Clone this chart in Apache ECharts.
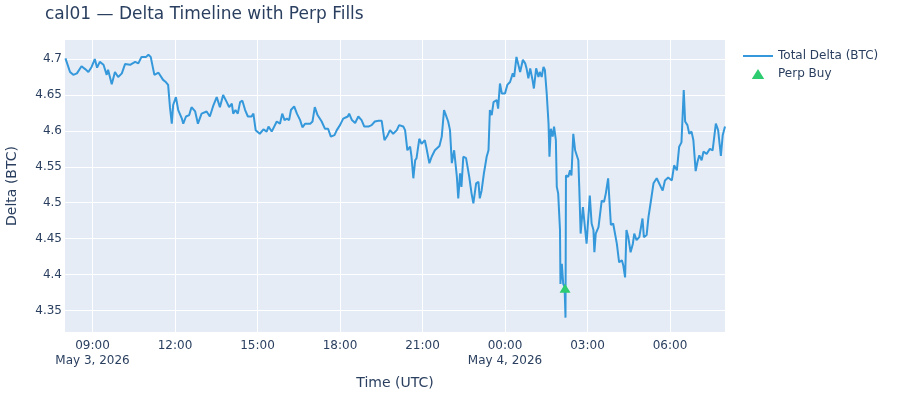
<!DOCTYPE html>
<html>
  <head>
    <meta charset="utf-8" />
  </head>
  <body style="margin: 0; background: #fff">
    <div id="container" style="width: 900px; height: 400px"></div>
    <script src="https://cdn.jsdelivr.net/npm/echarts@6/dist/echarts.min.js"></script>
    <script type="text/javascript">
      // delta samples (UTC)
      const times = [
        '2026-05-03 08:01', '2026-05-03 08:11', '2026-05-03 08:15', '2026-05-03 08:18', '2026-05-03 08:26',
        '2026-05-03 08:36', '2026-05-03 08:44', '2026-05-03 08:51', '2026-05-03 08:58', '2026-05-03 09:05',
        '2026-05-03 09:10', '2026-05-03 09:16', '2026-05-03 09:24', '2026-05-03 09:31', '2026-05-03 09:34',
        '2026-05-03 09:42', '2026-05-03 09:49', '2026-05-03 09:56', '2026-05-03 10:04', '2026-05-03 10:11',
        '2026-05-03 10:22', '2026-05-03 10:33', '2026-05-03 10:40', '2026-05-03 10:47', '2026-05-03 10:57',
        '2026-05-03 11:02', '2026-05-03 11:07', '2026-05-03 11:11', '2026-05-03 11:15', '2026-05-03 11:24',
        '2026-05-03 11:27', '2026-05-03 11:34', '2026-05-03 11:40', '2026-05-03 11:45', '2026-05-03 11:49',
        '2026-05-03 11:53', '2026-05-03 11:56', '2026-05-03 12:02', '2026-05-03 12:07', '2026-05-03 12:15',
        '2026-05-03 12:18', '2026-05-03 12:24', '2026-05-03 12:31', '2026-05-03 12:36', '2026-05-03 12:44',
        '2026-05-03 12:50', '2026-05-03 12:58', '2026-05-03 13:09', '2026-05-03 13:16', '2026-05-03 13:24',
        '2026-05-03 13:31', '2026-05-03 13:38', '2026-05-03 13:45', '2026-05-03 13:53', '2026-05-03 13:58',
        '2026-05-03 14:04', '2026-05-03 14:07', '2026-05-03 14:12', '2026-05-03 14:17', '2026-05-03 14:22',
        '2026-05-03 14:27', '2026-05-03 14:33', '2026-05-03 14:39', '2026-05-03 14:47', '2026-05-03 14:51',
        '2026-05-03 14:56', '2026-05-03 15:05', '2026-05-03 15:13', '2026-05-03 15:20', '2026-05-03 15:24',
        '2026-05-03 15:31', '2026-05-03 15:42', '2026-05-03 15:49', '2026-05-03 15:54', '2026-05-03 15:59',
        '2026-05-03 16:04', '2026-05-03 16:09', '2026-05-03 16:13', '2026-05-03 16:20', '2026-05-03 16:26',
        '2026-05-03 16:33', '2026-05-03 16:38', '2026-05-03 16:44', '2026-05-03 16:55', '2026-05-03 17:00',
        '2026-05-03 17:05', '2026-05-03 17:11', '2026-05-03 17:20', '2026-05-03 17:27', '2026-05-03 17:34',
        '2026-05-03 17:40', '2026-05-03 17:48', '2026-05-03 17:53', '2026-05-03 18:00', '2026-05-03 18:07',
        '2026-05-03 18:17', '2026-05-03 18:20', '2026-05-03 18:26', '2026-05-03 18:33', '2026-05-03 18:40',
        '2026-05-03 18:47', '2026-05-03 18:53', '2026-05-03 19:02', '2026-05-03 19:09', '2026-05-03 19:16',
        '2026-05-03 19:24', '2026-05-03 19:31', '2026-05-03 19:37', '2026-05-03 19:44', '2026-05-03 19:49',
        '2026-05-03 19:56', '2026-05-03 20:04', '2026-05-03 20:09', '2026-05-03 20:18', '2026-05-03 20:22',
        '2026-05-03 20:27', '2026-05-03 20:33', '2026-05-03 20:36', '2026-05-03 20:40', '2026-05-03 20:44',
        '2026-05-03 20:47', '2026-05-03 20:53', '2026-05-03 20:58', '2026-05-03 21:05', '2026-05-03 21:09',
        '2026-05-03 21:15', '2026-05-03 21:20', '2026-05-03 21:27', '2026-05-03 21:37', '2026-05-03 21:42',
        '2026-05-03 21:47', '2026-05-03 21:51', '2026-05-03 21:56', '2026-05-03 22:00', '2026-05-03 22:04',
        '2026-05-03 22:09', '2026-05-03 22:15', '2026-05-03 22:18', '2026-05-03 22:22', '2026-05-03 22:25',
        '2026-05-03 22:29', '2026-05-03 22:35', '2026-05-03 22:38', '2026-05-03 22:42', '2026-05-03 22:47',
        '2026-05-03 22:51', '2026-05-03 22:57', '2026-05-03 23:02', '2026-05-03 23:05', '2026-05-03 23:09',
        '2026-05-03 23:14', '2026-05-03 23:20', '2026-05-03 23:24', '2026-05-03 23:27', '2026-05-03 23:31',
        '2026-05-03 23:35', '2026-05-03 23:42', '2026-05-03 23:45', '2026-05-03 23:49', '2026-05-03 23:53',
        '2026-05-04 00:00', '2026-05-04 00:05', '2026-05-04 00:11', '2026-05-04 00:17', '2026-05-04 00:20',
        '2026-05-04 00:25', '2026-05-04 00:29', '2026-05-04 00:33', '2026-05-04 00:39', '2026-05-04 00:44',
        '2026-05-04 00:47', '2026-05-04 00:51', '2026-05-04 00:55', '2026-05-04 01:00', '2026-05-04 01:03',
        '2026-05-04 01:08', '2026-05-04 01:13', '2026-05-04 01:16', '2026-05-04 01:20', '2026-05-04 01:24',
        '2026-05-04 01:27', '2026-05-04 01:31', '2026-05-04 01:35', '2026-05-04 01:37', '2026-05-04 01:40',
        '2026-05-04 01:44', '2026-05-04 01:47', '2026-05-04 01:51', '2026-05-04 01:53', '2026-05-04 01:56',
        '2026-05-04 02:00', '2026-05-04 02:01', '2026-05-04 02:04', '2026-05-04 02:07', '2026-05-04 02:10',
        '2026-05-04 02:12', '2026-05-04 02:13', '2026-05-04 02:18', '2026-05-04 02:22', '2026-05-04 02:25',
        '2026-05-04 02:29', '2026-05-04 02:33', '2026-05-04 02:36', '2026-05-04 02:40', '2026-05-04 02:42',
        '2026-05-04 02:45', '2026-05-04 02:50', '2026-05-04 02:52', '2026-05-04 02:55', '2026-05-04 02:58',
        '2026-05-04 03:02', '2026-05-04 03:05', '2026-05-04 03:09', '2026-05-04 03:13', '2026-05-04 03:15',
        '2026-05-04 03:18', '2026-05-04 03:24', '2026-05-04 03:31', '2026-05-04 03:36', '2026-05-04 03:40',
        '2026-05-04 03:45', '2026-05-04 03:51', '2026-05-04 03:56', '2026-05-04 04:04', '2026-05-04 04:09',
        '2026-05-04 04:15', '2026-05-04 04:18', '2026-05-04 04:22', '2026-05-04 04:25', '2026-05-04 04:29',
        '2026-05-04 04:34', '2026-05-04 04:39', '2026-05-04 04:42', '2026-05-04 04:47', '2026-05-04 04:53',
        '2026-05-04 05:00', '2026-05-04 05:03', '2026-05-04 05:09', '2026-05-04 05:13', '2026-05-04 05:18',
        '2026-05-04 05:24', '2026-05-04 05:31', '2026-05-04 05:35', '2026-05-04 05:40', '2026-05-04 05:44',
        '2026-05-04 05:49', '2026-05-04 05:56', '2026-05-04 06:04', '2026-05-04 06:09', '2026-05-04 06:15',
        '2026-05-04 06:20', '2026-05-04 06:25', '2026-05-04 06:30', '2026-05-04 06:33', '2026-05-04 06:38',
        '2026-05-04 06:42', '2026-05-04 06:47', '2026-05-04 06:51', '2026-05-04 06:56', '2026-05-04 07:00',
        '2026-05-04 07:04', '2026-05-04 07:09', '2026-05-04 07:13', '2026-05-04 07:20', '2026-05-04 07:27',
        '2026-05-04 07:33', '2026-05-04 07:40', '2026-05-04 07:45', '2026-05-04 07:51', '2026-05-04 07:55',
        '2026-05-04 08:00'
      ]
      const delta = [
        4.701, 4.682, 4.684, 4.678, 4.680, 4.690, 4.686, 4.682, 4.689, 4.700,
        4.688, 4.696, 4.692, 4.678, 4.685, 4.665, 4.682, 4.675, 4.680, 4.693,
        4.692, 4.696, 4.694, 4.703, 4.703, 4.706, 4.703, 4.703, 4.678, 4.681,
        4.680, 4.671, 4.668, 4.664, 4.633, 4.610, 4.636, 4.647, 4.629, 4.617,
        4.610, 4.620, 4.622, 4.633, 4.627, 4.610, 4.624, 4.627, 4.620, 4.636,
        4.647, 4.633, 4.650, 4.640, 4.633, 4.638, 4.624, 4.629, 4.624, 4.640,
        4.642, 4.629, 4.620, 4.620, 4.624, 4.601, 4.596, 4.602, 4.599, 4.606,
        4.599, 4.613, 4.610, 4.624, 4.615, 4.617, 4.615, 4.629, 4.634, 4.624,
        4.615, 4.605, 4.610, 4.610, 4.613, 4.633, 4.622, 4.613, 4.603, 4.603,
        4.592, 4.594, 4.601, 4.608, 4.617, 4.620, 4.624, 4.615, 4.611, 4.620,
        4.615, 4.606, 4.606, 4.608, 4.613, 4.614, 4.614, 4.587, 4.594, 4.601,
        4.596, 4.601, 4.608, 4.606, 4.601, 4.573, 4.578, 4.564, 4.534, 4.559,
        4.562, 4.589, 4.582, 4.587, 4.575, 4.555, 4.564, 4.573, 4.579, 4.592,
        4.629, 4.622, 4.613, 4.601, 4.555, 4.573, 4.536, 4.506, 4.541, 4.522,
        4.564, 4.562, 4.564, 4.536, 4.513, 4.499, 4.527, 4.529, 4.506, 4.517,
        4.541, 4.564, 4.573, 4.629, 4.622, 4.640, 4.643, 4.631, 4.666, 4.652,
        4.652, 4.664, 4.668, 4.680, 4.675, 4.703, 4.701, 4.682, 4.699, 4.694,
        4.687, 4.673, 4.687, 4.671, 4.659, 4.687, 4.675, 4.682, 4.675, 4.689,
        4.685, 4.652, 4.610, 4.564, 4.603, 4.592, 4.606, 4.587, 4.522, 4.513,
        4.462, 4.387, 4.415, 4.387, 4.383, 4.340, 4.538, 4.536, 4.545, 4.538,
        4.596, 4.573, 4.571, 4.559, 4.522, 4.457, 4.494, 4.496, 4.462, 4.443,
        4.445, 4.510, 4.471, 4.462, 4.431, 4.457, 4.466, 4.503, 4.501, 4.513,
        4.534, 4.469, 4.471, 4.443, 4.417, 4.420, 4.413, 4.396, 4.462, 4.452,
        4.431, 4.443, 4.457, 4.448, 4.452, 4.478, 4.452, 4.455, 4.480, 4.501,
        4.527, 4.534, 4.536, 4.522, 4.517, 4.531, 4.535, 4.531, 4.552, 4.545,
        4.578, 4.584, 4.657, 4.613, 4.608, 4.596, 4.599, 4.587, 4.544, 4.557,
        4.566, 4.559, 4.571, 4.568, 4.575, 4.573, 4.610, 4.601, 4.565, 4.594,
        4.606
      ]

      // perp fills
      const buyTimes = ['2026-05-04 02:11']
      const buyDelta = [4.381]

      const xTicks = [
        '2026-05-03 09:00', '2026-05-03 12:00', '2026-05-03 15:00', '2026-05-03 18:00',
        '2026-05-03 21:00', '2026-05-04 00:00', '2026-05-04 03:00', '2026-05-04 06:00'
      ]
      const yTicks = [4.35, 4.4, 4.45, 4.5, 4.55, 4.6, 4.65, 4.7]

      const MONTHS = ['Jan', 'Feb', 'Mar', 'Apr', 'May', 'Jun', 'Jul', 'Aug', 'Sep', 'Oct', 'Nov', 'Dec']
      const toMs = (s) => Date.parse(s.replace(' ', 'T') + ':00Z')
      const pad = (n) => String(n).padStart(2, '0')

      const xTickMs = xTicks.map(toMs)

      const dom = document.getElementById('container')
      const myChart = echarts.init(dom, null, { renderer: 'canvas' })
      const font = '"DejaVu Sans", Verdana, sans-serif'
      const ink = '#2a3f5f'

      const option = {
        animation: false,
        textStyle: { fontFamily: font },
        title: {
          text: 'cal01 — Delta Timeline with Perp Fills',
          left: 45,
          top: 6,
          padding: 0,
          textStyle: { fontFamily: font, fontSize: 17, fontWeight: 'normal', color: ink },
        },
        legend: {
          orient: 'vertical',
          left: 743,
          top: 50,
          padding: 0,
          itemWidth: 30,
          itemHeight: 10,
          itemGap: 6,
          textStyle: { fontFamily: font, fontSize: 12, color: ink },
          data: [
            { name: 'Total Delta (BTC)', icon: 'path://M0,0 L30,0 L30,2 L0,2 Z' },
            { name: 'Perp Buy', icon: 'path://M5,0 L10,8 L0,8 Z' },
          ],
        },
        grid: {
          left: 65,
          right: 175,
          top: 40,
          bottom: 68,
          outerBoundsMode: 'none',
          backgroundColor: '#E5ECF6',
          show: true,
          borderWidth: 0,
        },
        xAxis: {
          type: 'value',
          min: toMs('2026-05-03 08:00'),
          max: toMs('2026-05-04 08:00'),
          name: 'Time (UTC)',
          nameLocation: 'middle',
          nameGap: 44,
          nameTextStyle: { fontFamily: font, fontSize: 14, color: ink },
          axisLine: { show: false },
          axisTick: { show: false, customValues: xTickMs },
          axisLabel: {
            customValues: xTickMs,
            fontFamily: font,
            fontSize: 12,
            color: ink,
            lineHeight: 15,
            margin: 6,
            formatter: (v) => {
              const d = new Date(v)
              const hm = pad(d.getUTCHours()) + ':' + pad(d.getUTCMinutes())
              if (v === xTickMs[0] || (d.getUTCHours() === 0 && d.getUTCMinutes() === 0)) {
                return hm + '\n' + MONTHS[d.getUTCMonth()] + ' ' + d.getUTCDate() + ', ' + d.getUTCFullYear()
              }
              return hm
            },
          },
          splitLine: { show: true, lineStyle: { color: '#fff', width: 1 } },
        },
        yAxis: {
          type: 'value',
          min: 4.32,
          max: 4.7265,
          name: 'Delta (BTC)',
          nameLocation: 'middle',
          nameGap: 46,
          nameTextStyle: { fontFamily: font, fontSize: 14, color: ink },
          axisLine: { show: false },
          axisTick: { show: false, customValues: yTicks },
          axisLabel: {
            customValues: yTicks,
            fontFamily: font,
            fontSize: 12,
            color: ink,
            margin: 3,
            formatter: (v) => String(+Number(v).toFixed(2)),
          },
          splitLine: { show: true, lineStyle: { color: '#fff', width: 1 } },
        },
        series: [
          {
            name: 'Total Delta (BTC)',
            type: 'line',
            showSymbol: false,
            symbol: 'none',
            data: times.map((t, i) => [toMs(t), delta[i]]),
            lineStyle: { color: '#3498db', width: 2 },
            itemStyle: { color: '#3498db' },
            z: 2,
          },
          {
            name: 'Perp Buy',
            type: 'scatter',
            symbol: 'triangle',
            symbolSize: [11, 9],
            data: buyTimes.map((t, i) => [toMs(t), buyDelta[i]]),
            itemStyle: { color: '#2ecc71', opacity: 1 },
            z: 3,
          },
        ],
      }

      myChart.setOption(option)
      window.addEventListener('resize', myChart.resize)
    </script>
  </body>
</html>
